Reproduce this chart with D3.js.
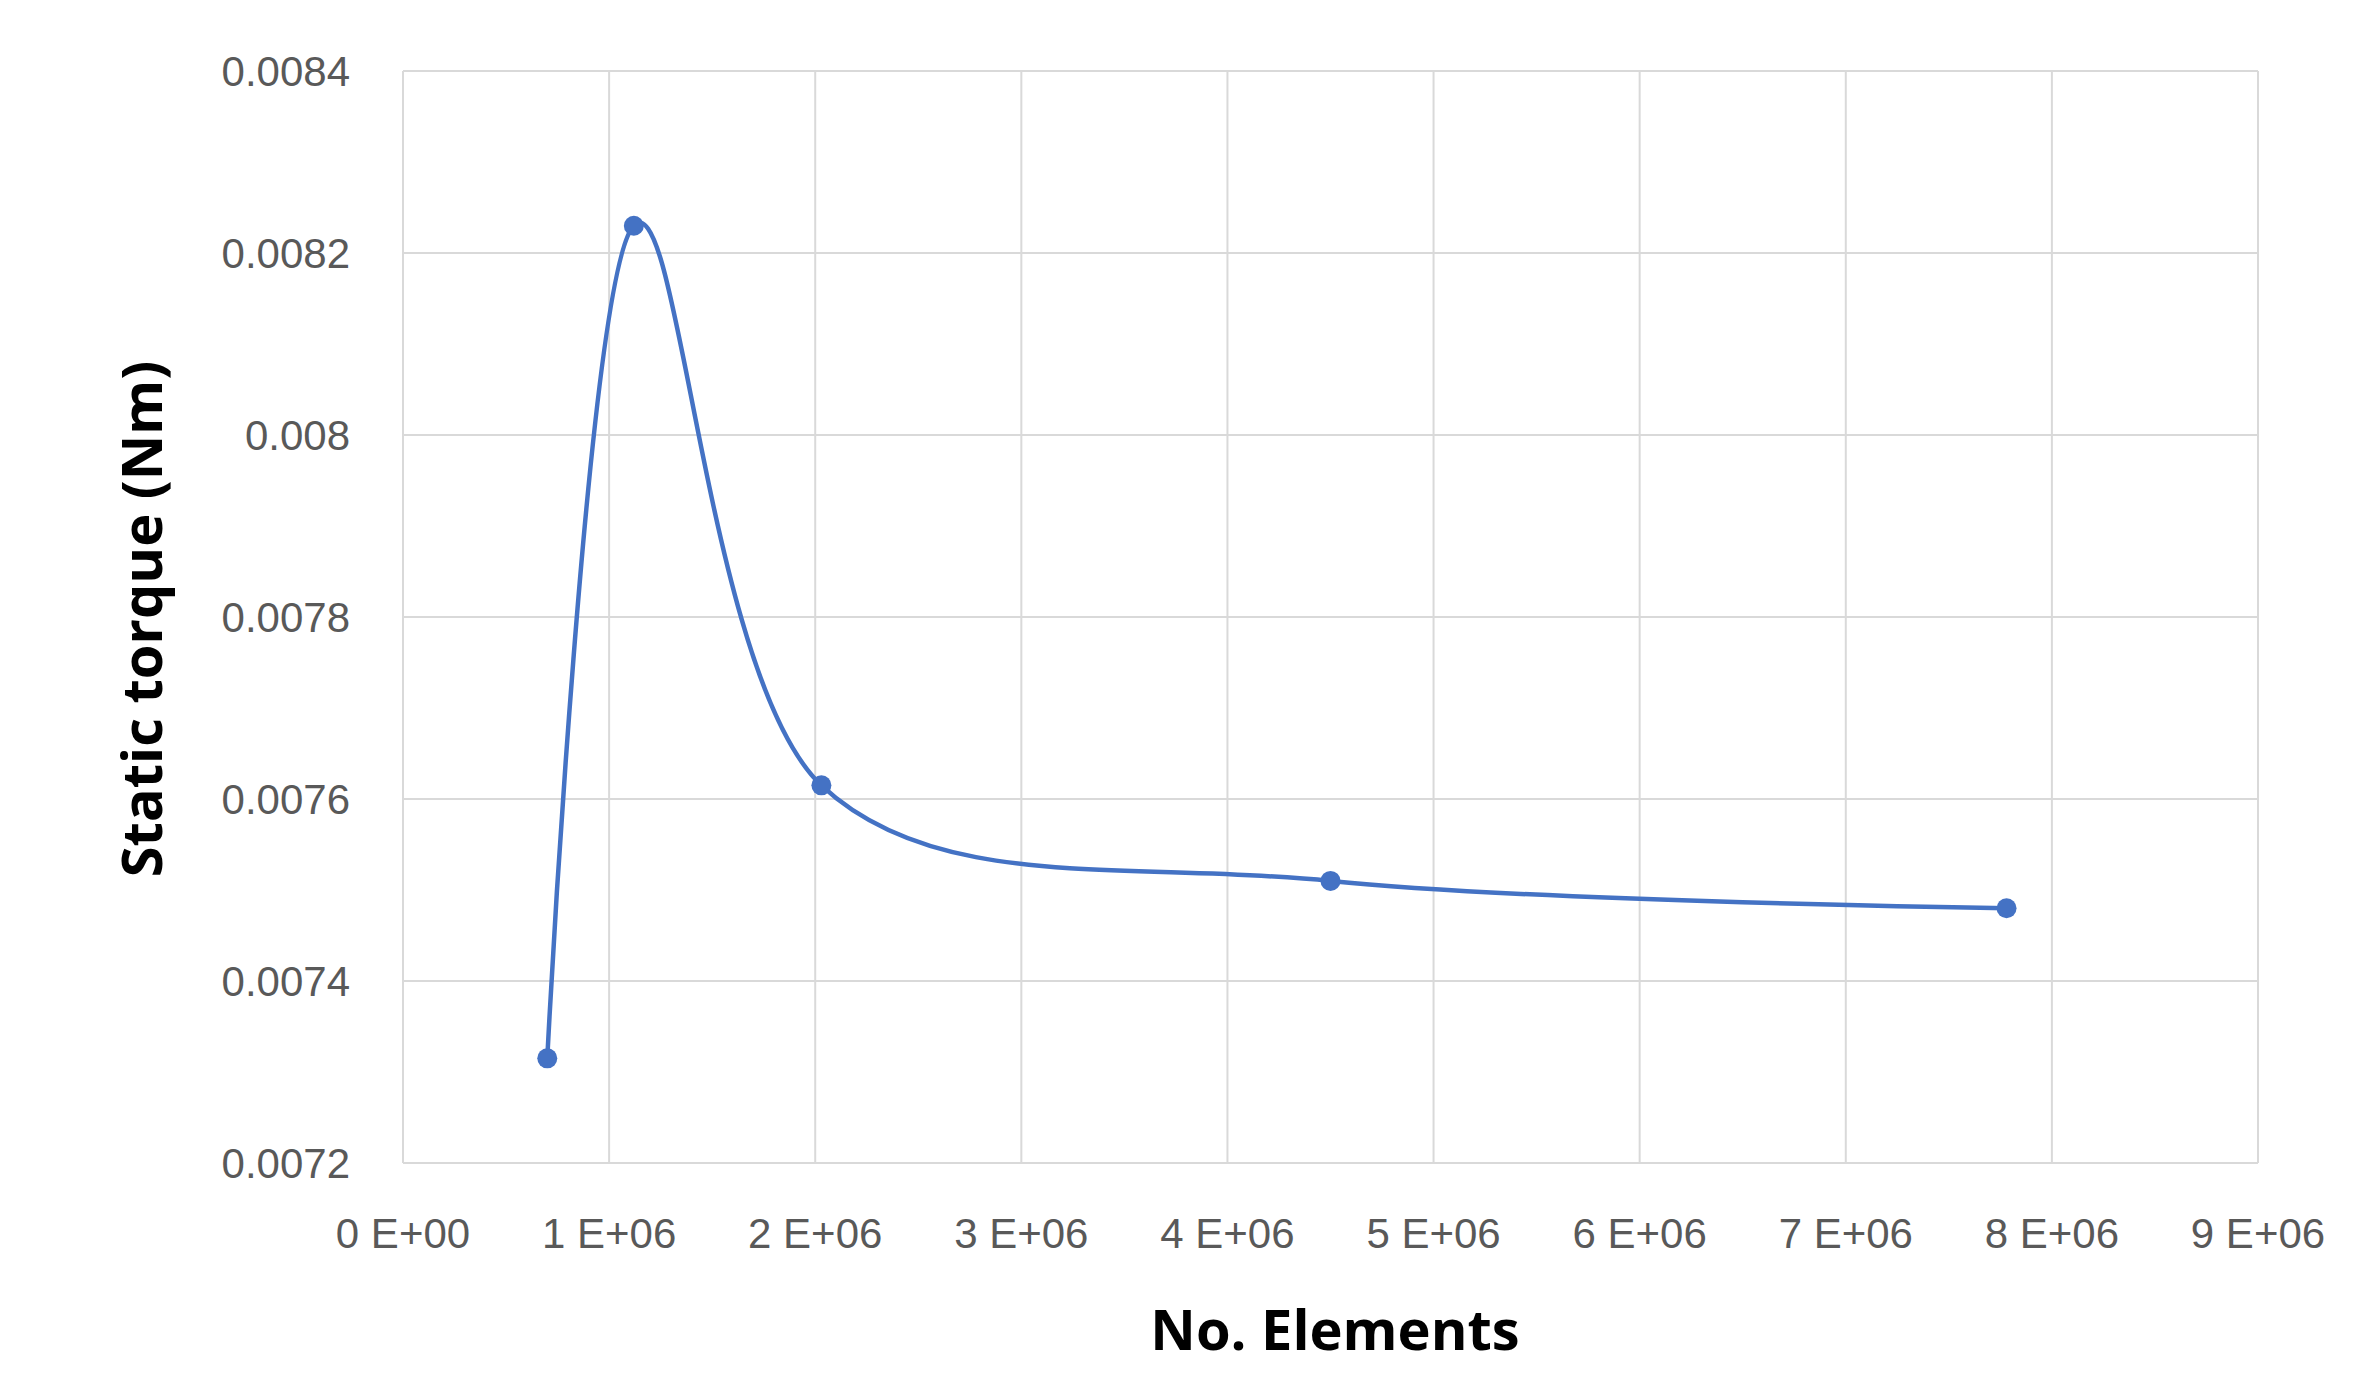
<!DOCTYPE html>
<html lang="en">
<head>
<meta charset="UTF-8">
<title>Static torque</title>
<script src="https://d3js.org/d3.v7.min.js"></script>
<style>body{margin:0;background:#fff}</style>
</head>
<body>
<script>
const elements = [0.7e6, 1.12e6, 2.03e6, 4.5e6, 7.78e6];
const torque = [0.007315, 0.00823, 0.007615, 0.00751, 0.00748];
const xTicks = [0, 1e6, 2e6, 3e6, 4e6, 5e6, 6e6, 7e6, 8e6, 9e6];
const yTicks = [0.0072, 0.0074, 0.0076, 0.0078, 0.008, 0.0082, 0.0084];

const width = 2371, height = 1396;
const plotLeft = 403, plotRight = 2258, plotTop = 71, plotBottom = 1163;

const svg = d3.select("body").append("svg")
    .attr("width", width).attr("height", height);

const x = d3.scaleLinear().domain([0, 9e6]).range([plotLeft, plotRight]);
const y = d3.scaleLinear().domain([0.0072, 0.0084]).range([plotBottom, plotTop]);

// grid
svg.append("g").selectAll("line").data(xTicks).join("line")
    .attr("x1", d => x(d)).attr("x2", d => x(d))
    .attr("y1", plotTop).attr("y2", plotBottom)
    .attr("stroke", "#d9d9d9").attr("stroke-width", 2);
svg.append("g").selectAll("line").data(yTicks).join("line")
    .attr("x1", plotLeft).attr("x2", plotRight)
    .attr("y1", d => y(d)).attr("y2", d => y(d))
    .attr("stroke", "#d9d9d9").attr("stroke-width", 2);

// tick labels
svg.append("g").selectAll("text").data(yTicks).join("text")
    .attr("x", 350).attr("y", d => y(d) + 15)
    .attr("text-anchor", "end")
    .style("font", "42px 'Liberation Sans', sans-serif").attr("fill", "#595959")
    .text(d => d.toString());
svg.append("g").selectAll("text").data(xTicks).join("text")
    .attr("x", d => x(d)).attr("y", 1248)
    .attr("text-anchor", "middle")
    .style("font", "42px 'Liberation Sans', sans-serif").attr("fill", "#595959")
    .text(d => (d / 1e6) + " E+0" + (d === 0 ? "0" : "6"));

// axis titles
svg.append("text").attr("x", 1335).attr("y", 1350)
    .attr("text-anchor", "middle")
    .style("font", "bold 56px 'Open Sans', sans-serif").attr("fill", "#000")
    .text("No. Elements");
svg.append("text")
    .attr("transform", "translate(162,619) rotate(-90)")
    .attr("text-anchor", "middle")
    .style("font", "bold 56px 'Open Sans', sans-serif").attr("fill", "#000")
    .text("Static torque (Nm)");

const pts = elements.map((e, i) => [e, torque[i]]);
const line = d3.line().x(d => x(d[0])).y(d => y(d[1]))
    .curve(d3.curveCardinal.tension(0));
svg.append("path").attr("d", line(pts))
    .attr("fill", "none").attr("stroke", "#4472c4").attr("stroke-width", 4.5);
svg.append("g").selectAll("circle").data(pts).join("circle")
    .attr("cx", d => x(d[0])).attr("cy", d => y(d[1])).attr("r", 10)
    .attr("fill", "#4472c4");
</script>
</body>
</html>
